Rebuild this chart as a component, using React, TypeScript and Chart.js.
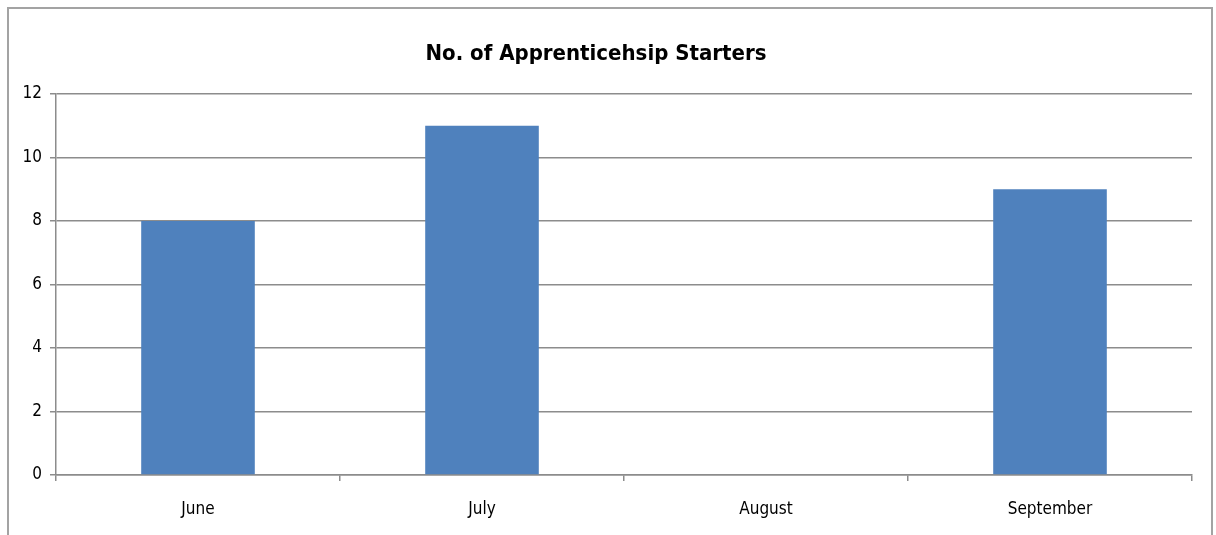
import React, { useEffect, useRef } from "react";
import { Chart, registerables } from "chart.js";

Chart.register(...registerables);

const title = "No. of Apprenticehsip Starters";
const categories = ["June", "July", "August", "September"];
const starters = [8, 11, 0, 9];
const yTicks = { min: 0, max: 12, step: 2 };

const FONT = "'Liberation Sans Narrow', 'DejaVu Sans Condensed', 'Arial Narrow', sans-serif";

export default function App() {
  const canvasRef = useRef<HTMLCanvasElement | null>(null);

  useEffect(() => {
    const canvas = canvasRef.current;
    if (!canvas) return;
    const chart = new Chart(canvas, {
      type: "bar",
      data: {
        labels: categories,
        datasets: [
          {
            label: title,
            data: starters,
            backgroundColor: "#4f81bd",
            borderWidth: 0,
            barPercentage: 0.4,
            categoryPercentage: 1,
          },
        ],
      },
      options: {
        animation: false,
        responsive: false,
        maintainAspectRatio: false,
        layout: { padding: { left: 0, right: 24, top: 0, bottom: 0 } },
        plugins: {
          legend: { display: false },
          tooltip: { enabled: false },
          title: {
            display: true,
            text: title,
            color: "#000000",
            font: { family: FONT, size: 22, weight: "bold", lineHeight: 1.2 },
            padding: { top: 41, bottom: 26.6 },
          },
        },
        scales: {
          x: {
            afterFit: (scale: any) => {
              scale.height = 60;
            },
            grid: {
              display: true,
              offset: true,
              drawOnChartArea: false,
              drawTicks: true,
              tickLength: 6,
              color: "#8c8c8c",
              lineWidth: 1.5,
            },
            border: { display: true, color: "#8c8c8c", width: 1.5 },
            ticks: {
              color: "#000000",
              padding: 18,
              font: { family: FONT, size: 17 },
            },
          },
          y: {
            min: yTicks.min,
            max: yTicks.max,
            afterFit: (scale: any) => {
              scale.width = 56;
            },
            grid: {
              display: true,
              drawOnChartArea: true,
              drawTicks: true,
              tickLength: 6,
              color: "#8c8c8c",
              lineWidth: 1.5,
            },
            border: { display: true, color: "#8c8c8c", width: 1.5 },
            ticks: {
              stepSize: yTicks.step,
              color: "#000000",
              padding: 8,
              font: { family: FONT, size: 17 },
            },
          },
        },
      },
    });
    return () => chart.destroy();
  }, []);

  return (
    <div
      style={{
        position: "fixed",
        left: 0,
        top: 0,
        width: 1216,
        height: 535,
        overflow: "hidden",
        background: "#ffffff",
      }}
    >
      <canvas ref={canvasRef} width={1216} height={535} style={{ position: "absolute", left: 0, top: 0 }} />
      <div
        style={{
          position: "absolute",
          left: 7,
          top: 7,
          width: 1206,
          height: 600,
          boxSizing: "border-box",
          border: "2px solid #a3a3a3",
          pointerEvents: "none",
        }}
      />
    </div>
  );
}
